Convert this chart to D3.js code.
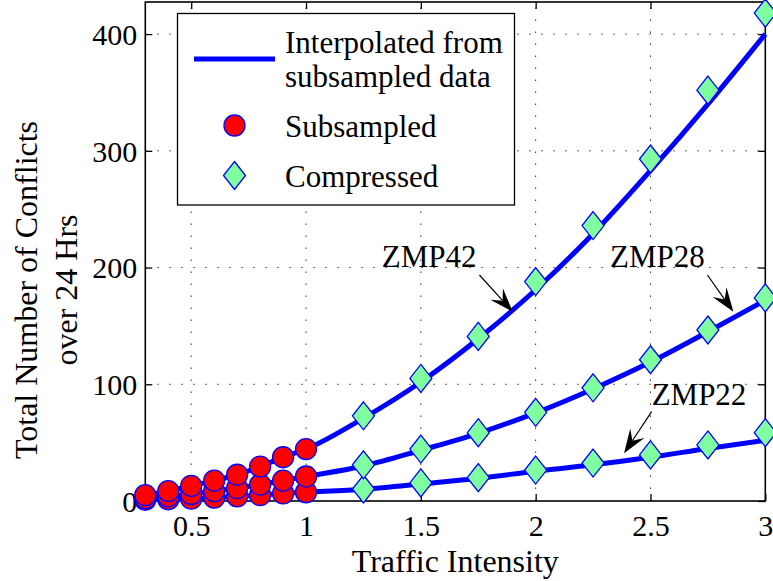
<!DOCTYPE html>
<html><head><meta charset="utf-8">
<script src="https://cdn.jsdelivr.net/npm/d3@7/dist/d3.min.js"></script>
<style>
body{margin:0;background:#fff;}
text{font-family:"Liberation Serif","Times New Roman",serif;fill:#000;}
</style></head>
<body><svg id="c" width="773" height="581"></svg>
<script>
// ---- data ----
const xSub = [0.3,0.4,0.5,0.6,0.7,0.8,0.9,1.0];
const xComp = [1.25,1.5,1.75,2,2.25,2.5,2.75,3];
const sub42 = [5,8.5,13,17.5,22.5,29.5,37.5,44.5];
const sub28 = [2.5,4,6,8.5,11,14,17.5,21];
const sub22 = [1,1.5,2,3,4,5,6.5,7.5];
const comp42 = [73,105,141,188,236,293,352,418];
const comp28 = [31,44.5,58.5,76,97,121,146.5,174];
const comp22 = [10.3,15.5,20,26.5,32.5,39.5,48,58.5];
const fit42 = [71,102,139,181,229,283,340,400];
const fit28 = [30,43.5,58,75.5,96,119,145,172];
const fit22 = [10,14.5,19.5,25.5,31,37.5,45,52];
const xTicks = [0.5,1,1.5,2,2.5,3];
const yTicks = [0,100,200,300,400];
const seriesNames = ["ZMP42","ZMP28","ZMP22"];
const legendLabels = [["Interpolated from","subsampled data"],["Subsampled"],["Compressed"]];
const xLabel = "Traffic Intensity";
const yLabel = ["Total Number of Conflicts","over 24 Hrs"];
// annotations: [label, textX, textY, arrowFromX, arrowFromY, arrowToX, arrowToY]
const annots = [
  ["ZMP42",1.33,200.4,1.755,193.6,1.90,162.1],
  ["ZMP28",2.324,200.4,2.748,193.6,2.861,162.1],
  ["ZMP22",2.505,82.2,2.505,76.5,2.385,40.9]
];

// ---- layout ----
const L=145.3, R=765.3, T=2, B=501;
const x = d3.scaleLinear().domain([0.3,3]).range([L,R]);
const y = d3.scaleLinear().domain([0,427.5]).range([B,T]);
const svg = d3.select("#c");
const BLUE="#0000ff", RED="#ff0000", GREEN="#80ffa0";

// grid
const grid = svg.append("g").attr("stroke","#333").attr("stroke-width",1).attr("stroke-dasharray","1.5,10.5");
grid.selectAll(".gx").data(xTicks.filter(d=>d<3)).join("line")
  .attr("x1",d=>x(d)).attr("x2",d=>x(d)).attr("y1",B).attr("y2",T);
grid.selectAll(".gy").data(yTicks.filter(d=>d>0)).join("line")
  .attr("x1",L).attr("x2",R).attr("y1",d=>y(d)).attr("y2",d=>y(d));

// axes
const tickLen=7;
const ax = svg.append("g");
ax.append("g").attr("transform",`translate(0,${B})`)
  .call(d3.axisBottom(x).tickValues(xTicks).tickFormat(d3.format("")).tickSize(-tickLen).tickPadding(14))
  .call(g=>{g.select(".domain").remove();g.selectAll("text").attr("font-size",30).attr("font-family","Liberation Serif");});
ax.append("g").attr("transform",`translate(0,${T})`)
  .call(d3.axisTop(x).tickValues(xTicks).tickFormat("").tickSize(-tickLen))
  .call(g=>g.select(".domain").remove());
ax.append("g").attr("transform",`translate(${L},0)`)
  .call(d3.axisLeft(y).tickValues(yTicks).tickFormat(d3.format("d")).tickSize(-tickLen).tickPadding(8))
  .call(g=>{g.select(".domain").remove();g.selectAll("text").attr("font-size",30).attr("font-family","Liberation Serif").attr("dy","0.34em");});
ax.append("g").attr("transform",`translate(${R},0)`)
  .call(d3.axisRight(y).tickValues(yTicks).tickFormat("").tickSize(-tickLen))
  .call(g=>g.select(".domain").remove());
ax.selectAll(".tick line").attr("stroke","#000").attr("stroke-width",1.3);
ax.append("rect").attr("x",L).attr("y",T).attr("width",R-L).attr("height",B-T)
  .attr("fill","none").attr("stroke","#000").attr("stroke-width",1.6);

// lines
const subs=[sub42,sub28,sub22], comps=[comp42,comp28,comp22], fits=[fit42,fit28,fit22];
const line = d3.line().x(d=>x(d[0])).y(d=>y(d[1])).curve(d3.curveMonotoneX);
const plot = svg.append("g");
fits.forEach((f,i)=>{
  const pts = xSub.map((xx,j)=>[xx,subs[i][j]]).concat(xComp.map((xx,j)=>[xx,f[j]]));
  plot.append("path").attr("d",line(pts)).attr("fill","none").attr("stroke",BLUE).attr("stroke-width",5).attr("stroke-linejoin","round");
});
// circles (bottom series first)
[2,1,0].forEach(i=>{
  plot.append("g").selectAll("circle").data(xSub.map((xx,j)=>[xx,subs[i][j]])).join("circle")
    .attr("cx",d=>x(d[0])).attr("cy",d=>y(d[1])).attr("r",10.5)
    .attr("fill",RED).attr("stroke",BLUE).attr("stroke-width",1.3);
});
const diamond = (cx,cy)=>`M${cx},${cy-14}L${cx+11},${cy}L${cx},${cy+14}L${cx-11},${cy}Z`;
[2,1,0].forEach(i=>{
  plot.append("g").selectAll("path").data(xComp.map((xx,j)=>[xx,comps[i][j]])).join("path")
    .attr("d",d=>diamond(x(d[0]),y(d[1])))
    .attr("fill",GREEN).attr("stroke",BLUE).attr("stroke-width",1.3);
});

// annotations
const an = svg.append("g");
annots.forEach(a=>{
  an.append("text").attr("x",x(a[1])).attr("y",y(a[2])).attr("font-size",31).text(a[0]);
  const x0=x(a[3]),y0=y(a[4]),x1=x(a[5]),y1=y(a[6]);
  const dx=x1-x0, dy=y1-y0, len=Math.hypot(dx,dy), ux=dx/len, uy=dy/len, nx=-uy, ny=ux;
  const HL=24, HW=8.5, NOTCH=15;
  an.append("line").attr("x1",x0).attr("y1",y0).attr("x2",x1-ux*NOTCH).attr("y2",y1-uy*NOTCH)
    .attr("stroke","#000").attr("stroke-width",1.2);
  const bx=x1-ux*HL, by=y1-uy*HL;
  an.append("path").attr("d",`M${x1},${y1}L${bx+nx*HW},${by+ny*HW}L${x1-ux*NOTCH},${y1-uy*NOTCH}L${bx-nx*HW},${by-ny*HW}Z`)
    .attr("fill","#000");
});

// axis labels
svg.append("text").attr("x",(L+R)/2).attr("y",572).attr("text-anchor","middle").attr("font-size",32).text(xLabel);
const yl = svg.append("text").attr("transform","translate(37,290) rotate(-90)").attr("text-anchor","middle").attr("font-size",32);
yl.append("tspan").attr("x",0).attr("y",0).text(yLabel[0]);
yl.append("tspan").attr("x",0).attr("y",40).text(yLabel[1]);

// legend
const lg = svg.append("g");
lg.append("rect").attr("x",177.5).attr("y",13.5).attr("width",337).attr("height",191.5)
  .attr("fill","#fff").attr("stroke","#000").attr("stroke-width",1.3);
lg.append("line").attr("x1",194).attr("x2",275).attr("y1",59).attr("y2",59).attr("stroke",BLUE).attr("stroke-width",5);
lg.append("text").attr("x",285).attr("y",53).attr("font-size",31).text(legendLabels[0][0]);
lg.append("text").attr("x",285).attr("y",87).attr("font-size",31).text(legendLabels[0][1]);
lg.append("circle").attr("cx",234.5).attr("cy",125.5).attr("r",10.5).attr("fill",RED).attr("stroke",BLUE).attr("stroke-width",1.3);
lg.append("text").attr("x",285).attr("y",137).attr("font-size",31).text(legendLabels[1][0]);
lg.append("path").attr("d",diamond(234.5,175.5)).attr("fill",GREEN).attr("stroke",BLUE).attr("stroke-width",1.3);
lg.append("text").attr("x",285).attr("y",187).attr("font-size",31).text(legendLabels[2][0]);
</script></body></html>
